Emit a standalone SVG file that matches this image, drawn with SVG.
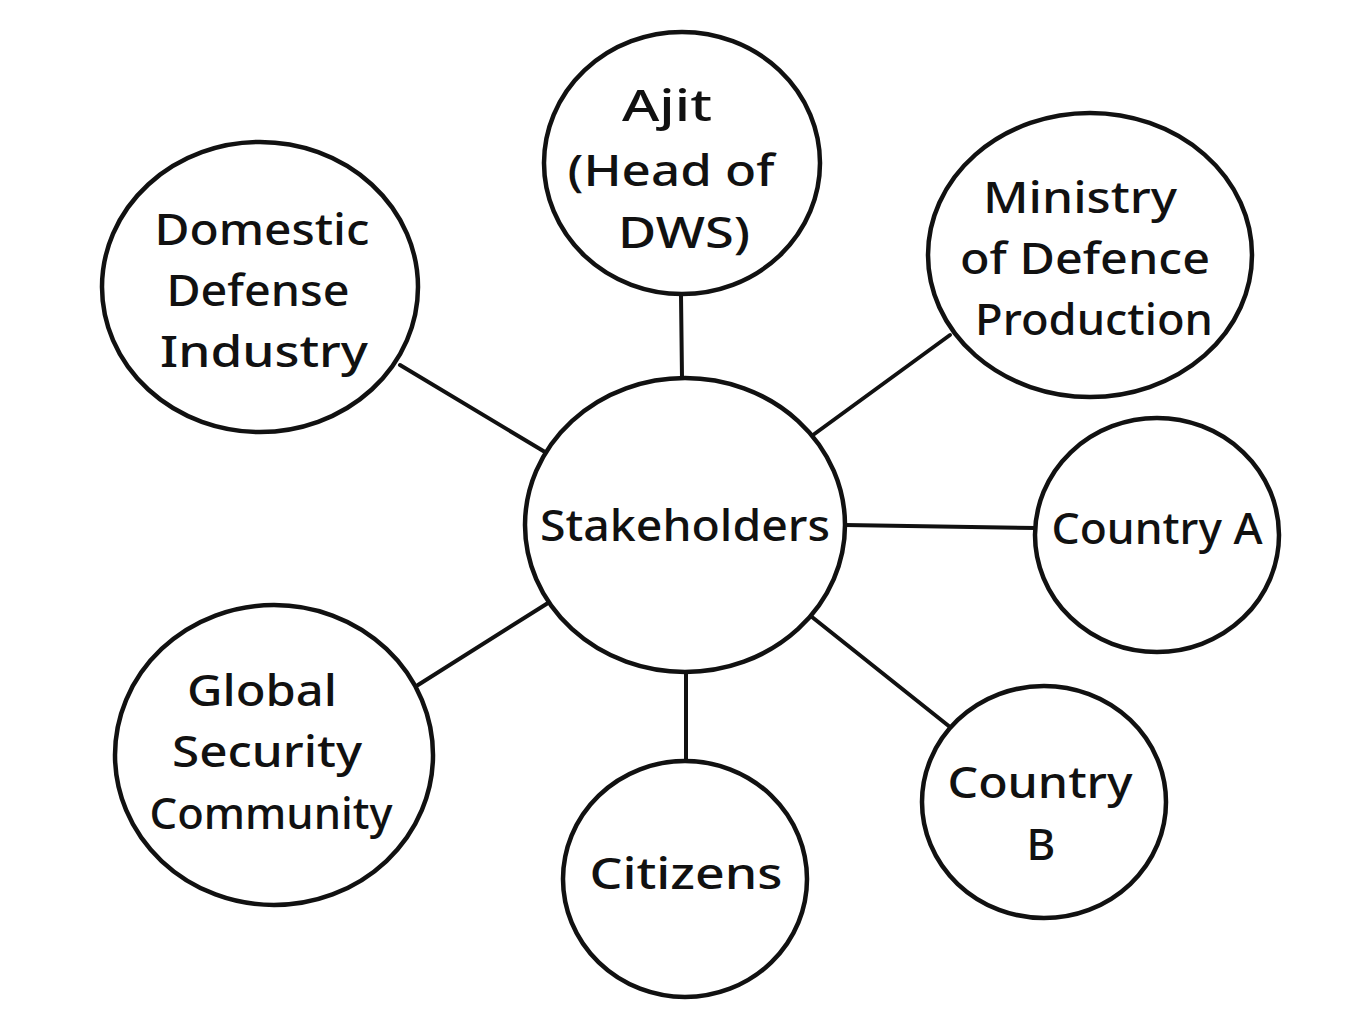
<svg xmlns="http://www.w3.org/2000/svg" width="1356" height="1034" viewBox="0 0 1356 1034">
<style>
.n{fill:#fff;stroke:#111;stroke-width:4.5}
.c line{stroke:#111;stroke-width:4;stroke-linecap:round}
text{font-family:"Noto Sans","DejaVu Sans",sans-serif;font-size:44px;font-weight:500;fill:#111;text-anchor:middle}
</style>
<rect width="1356" height="1034" fill="#fff"/>
<g class="c" id="connectors">
<line x1="681" y1="295" x2="682" y2="378"/>
<line x1="400" y1="365" x2="545" y2="452"/>
<line x1="950" y1="335" x2="813" y2="435"/>
<line x1="845" y1="525" x2="1036" y2="528"/>
<line x1="418" y1="685" x2="548" y2="603"/>
<line x1="686" y1="672" x2="686" y2="760"/>
<line x1="812" y1="617" x2="950" y2="727"/>
</g>
<g id="stakeholders"><ellipse class="n" cx="685" cy="525" rx="160" ry="147"/><text x="685" y="541" textLength="290" lengthAdjust="spacingAndGlyphs">Stakeholders</text></g>
<g id="ajit"><ellipse class="n" cx="682" cy="163" rx="138" ry="131"/><text x="667" y="121" textLength="90" lengthAdjust="spacingAndGlyphs">Ajit</text><text x="671" y="186" textLength="207" lengthAdjust="spacingAndGlyphs">(Head of</text><text x="684" y="248" textLength="132" lengthAdjust="spacingAndGlyphs">DWS)</text></g>
<g id="domestic"><ellipse class="n" cx="260" cy="287" rx="158" ry="145"/><text x="262" y="245" textLength="215" lengthAdjust="spacingAndGlyphs">Domestic</text><text x="258" y="306" textLength="183" lengthAdjust="spacingAndGlyphs">Defense</text><text x="264" y="367" textLength="208" lengthAdjust="spacingAndGlyphs">Industry</text></g>
<g id="ministry"><ellipse class="n" cx="1090" cy="255" rx="162" ry="142"/><text x="1080" y="213" textLength="194" lengthAdjust="spacingAndGlyphs">Ministry</text><text x="1085" y="274" textLength="250" lengthAdjust="spacingAndGlyphs">of Defence</text><text x="1094" y="335" textLength="238" lengthAdjust="spacingAndGlyphs">Production</text></g>
<g id="countryA"><ellipse class="n" cx="1157" cy="535" rx="122" ry="117"/><text x="1157" y="544" textLength="211" lengthAdjust="spacingAndGlyphs">Country A</text></g>
<g id="global"><ellipse class="n" cx="274" cy="755" rx="159" ry="150"/><text x="262" y="706" textLength="150" lengthAdjust="spacingAndGlyphs">Global</text><text x="267" y="767" textLength="190" lengthAdjust="spacingAndGlyphs">Security</text><text x="271" y="829" textLength="243" lengthAdjust="spacingAndGlyphs">Community</text></g>
<g id="citizens"><ellipse class="n" cx="685" cy="879" rx="122" ry="118"/><text x="686" y="889" textLength="193" lengthAdjust="spacingAndGlyphs">Citizens</text></g>
<g id="countryB"><ellipse class="n" cx="1044" cy="802" rx="122" ry="116"/><text x="1040" y="798" textLength="185" lengthAdjust="spacingAndGlyphs">Country</text><text x="1041" y="860">B</text></g>
</svg>
